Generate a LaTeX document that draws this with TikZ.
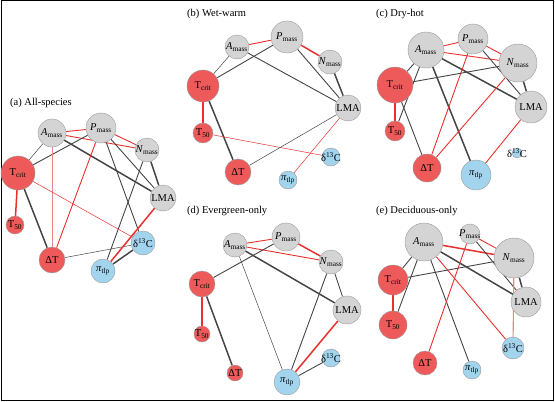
\documentclass[tikz,border=0pt]{standalone}
\usepackage{fontspec}
\setmainfont{Liberation Serif}
\usetikzlibrary{backgrounds}
\definecolor{gfill}{HTML}{D4D4D4}
\definecolor{gline}{HTML}{9A9A9A}
\definecolor{rfill}{HTML}{EE5A5A}
\definecolor{bfill}{HTML}{A3D4EE}
\definecolor{redline}{HTML}{E8312F}
\definecolor{pinkline}{HTML}{E88888}
\definecolor{darkline}{HTML}{454545}
\newcommand\lAm{\textit{A}\textsubscript{mass}}
\newcommand\lPm{\textit{P}\textsubscript{mass}}
\newcommand\lNm{\textit{N}\textsubscript{mass}}
\newcommand\lTc{T\textsubscript{crit}}
\newcommand\lTf{T\textsubscript{50}}
\newcommand\lDT{ΔT}
\newcommand\lDC{δ\textsuperscript{13}C}
\newcommand\lPi{\textit{π}\textsubscript{tlp}}
\newcommand\lLMA{LMA}
\tikzset{
  nd/.style={circle, draw=gline, line width=0.4pt, inner sep=0pt},
  gn/.style={nd, fill=gfill},
  rn/.style={nd, fill=rfill},
  bn/.style={nd, fill=bfill},
  lbl/.style={inner sep=0pt, font=\fontsize{10.5}{12}\selectfont},
  ttl/.style={anchor=west, inner sep=0pt, font=\fontsize{10.5}{12}\selectfont},
  rt/.style={draw=redline, line width=0.5pt},
  rm/.style={draw=redline, line width=0.9pt},
  rk/.style={draw=redline, line width=1.5pt},
  pk/.style={draw=pinkline, line width=0.8pt},
  bt/.style={draw=darkline, line width=0.5pt},
  bm/.style={draw=darkline, line width=0.9pt},
  bk/.style={draw=darkline, line width=1.5pt},
  t/.style={label={[lbl]center:#1}},
}
\begin{document}
\begin{tikzpicture}[x=1pt,y=-1pt]
\useasboundingbox (0,0) rectangle (555,402);
\draw[line width=1pt] (1,0.5) rectangle (553.5,400.5);

% ---------- (a) All-species
\node[ttl] (ta) at (10,103) {(a) All-species};
\node[gn, minimum size=28pt, t=\lAm] (aAm) at (52,133) {};
\node[gn, minimum size=30pt, t=\lPm] (aPm) at (101,128) {};
\node[gn, minimum size=24pt, t=\lNm] (aNm) at (147,150) {};
\node[gn, minimum size=26pt, t=\lLMA] (aL) at (163,198) {};
\node[bn, minimum size=24pt, t=\lDC] (aDC) at (143,243) {};
\node[bn, minimum size=24pt, t=\lPi] (aPi) at (103,271) {};
\node[rn, minimum size=26pt, t=\lDT] (aDT) at (52,260) {};
\node[rn, minimum size=18pt, t=\lTf] (aTf) at (15,225) {};
\node[rn, minimum size=34pt, t=\lTc] (aTc) at (18,173) {};
\begin{pgfonlayer}{background}
\draw[rm] (aAm) -- (aPm);
\draw[rm] (aAm) -- (aNm);
\draw[rm] (aPm) -- (aNm);
\draw[bt] (aAm) -- (aTc);
\draw[bm] (aPm) -- (aTc);
\draw[bk] (aAm) -- (aL);
\draw[pk, line width=0.6pt] (aAm) -- (aDT);
\draw[rm] (aPm) -- (aDT);
\draw[bm] (aPm) -- (aL);
\draw[bm] (aPm) -- (aDC);
\draw[bk] (aNm) -- (aL);
\draw[bm] (aNm) -- (aPi);
\draw[rk] (aTc) -- (aTf);
\draw[bk] (aTc) -- (aDT);
\draw[rt] (aTc) -- (aDC);
\draw[bt] (aDT) -- (aDC);
\draw[rk] (aL) -- (aPi);
\draw[bk] (aDC) -- (aPi);
\end{pgfonlayer}

% ---------- (b) Wet-warm
\node[ttl] (tb) at (187,14) {(b) Wet-warm};
\node[gn, minimum size=24pt, t=\lAm] (bAm) at (237,47) {};
\node[gn, minimum size=32pt, t=\lPm] (bPm) at (287,37) {};
\node[gn, minimum size=24pt, t=\lNm] (bNm) at (330,62) {};
\node[gn, minimum size=26pt, t=\lLMA] (bL) at (348,108) {};
\node[bn, minimum size=18pt, t=\lDC] (bDC) at (331,157) {};
\node[bn, minimum size=18pt, t=\lPi] (bPi) at (288,180) {};
\node[rn, minimum size=26pt, t=\lDT] (bDT) at (238,172) {};
\node[rn, minimum size=20pt, t=\lTf] (bTf) at (203,133) {};
\node[rn, minimum size=32pt, t=\lTc] (bTc) at (203,86) {};
\begin{pgfonlayer}{background}
\draw[rm] (bAm) -- (bPm);
\draw[rk] (bPm) -- (bNm);
\draw[bt] (bAm) -- (bTc);
\draw[bm] (bPm) -- (bTc);
\draw[bm] (bAm) -- (bL);
\draw[bm] (bPm) -- (bL);
\draw[bk] (bNm) -- (bL);
\draw[rk] (bTc) -- (bTf);
\draw[bk] (bTc) -- (bDT);
\draw[rt] (bTf) -- (bDC);
\draw[bt] (bDT) -- (bL);
\draw[rt] (bL) -- (bPi);
\end{pgfonlayer}

% ---------- (c) Dry-hot
\node[ttl] (tc) at (376,14) {(c) Dry-hot};
\node[gn, minimum size=36pt, t=\lAm] (cAm) at (426,50) {};
\node[gn, minimum size=30pt, t=\lPm] (cPm) at (473,39) {};
\node[gn, minimum size=38pt, t=\lNm] (cNm) at (518,63) {};
\node[gn, minimum size=32pt, t=\lLMA] (cL) at (531,107) {};
\node[bn, minimum size=10pt, t=\lDC] (cDC) at (517,153) {};
\node[bn, minimum size=30pt, t=\lPi] (cPi) at (476,175) {};
\node[rn, minimum size=28pt, t=\lDT] (cDT) at (427,168) {};
\node[rn, minimum size=20pt, t=\lTf] (cTf) at (395,131) {};
\node[rn, minimum size=36pt, t=\lTc] (cTc) at (395,85) {};
\begin{pgfonlayer}{background}
\draw[rm] (cAm) -- (cPm);
\draw[rm] (cAm) -- (cNm);
\draw[rm] (cPm) -- (cNm);
\draw[bm] (cAm) -- (cTc);
\draw[bm] (cAm) -- (cTf);
\draw[bk] (cAm) -- (cL);
\draw[bk] (cAm) -- (cPi);
\draw[rm] (cPm) -- (cDT);
\draw[bm] (cPm) -- (cL);
\draw[bm] (cNm) -- (cTc);
\draw[bk] (cNm) -- (cL);
\draw[rm] (cNm) -- (cDT);
\draw[rk] (cTc) -- (cTf);
\draw[bm] (cTc) -- (cDT);
\draw[rm] (cL) -- (cPi);
\end{pgfonlayer}

% ---------- (d) Evergreen-only
\node[ttl] (td) at (187,211) {(d) Evergreen-only};
\node[gn, minimum size=24pt, t=\lAm] (dAm) at (235,245) {};
\node[gn, minimum size=28pt, t=\lPm] (dPm) at (286,237) {};
\node[gn, minimum size=24pt, t=\lNm] (dNm) at (331,262) {};
\node[gn, minimum size=28pt, t=\lLMA] (dL) at (347,310) {};
\node[bn, minimum size=18pt, t=\lDC] (dDC) at (331,358) {};
\node[bn, minimum size=26pt, t=\lPi] (dPi) at (287,382) {};
\node[rn, minimum size=16pt, t=\lDT] (dDT) at (235,373) {};
\node[rn, minimum size=16pt, t=\lTf] (dTf) at (202,334) {};
\node[rn, minimum size=26pt, t=\lTc] (dTc) at (202,284) {};
\begin{pgfonlayer}{background}
\draw[rm] (dAm) -- (dPm);
\draw[rm] (dAm) -- (dNm);
\draw[rk] (dPm) -- (dNm);
\draw[bm] (dPm) -- (dTc);
\draw[bk] (dAm) -- (dL);
\draw[bt] (dAm) -- (dPi);
\draw[bm] (dNm) -- (dL);
\draw[bm] (dNm) -- (dPi);
\draw[rk] (dTc) -- (dTf);
\draw[bk] (dTc) -- (dDT);
\draw[rk] (dL) -- (dPi);
\draw[bm] (dDC) -- (dPi);
\end{pgfonlayer}

% ---------- (e) Deciduous-only
\node[ttl] (te) at (376,211) {(e) Deciduous-only};
\node[gn, minimum size=38pt, t=\lAm] (eAm) at (424,242) {};
\node[gn, minimum size=20pt, t=\lPm] (ePm) at (470,234) {};
\node[gn, minimum size=40pt, t=\lNm] (eNm) at (514,258) {};
\node[gn, minimum size=30pt, t=\lLMA] (eL) at (526,302) {};
\node[bn, minimum size=22pt, t=\lDC] (eDC) at (513,348) {};
\node[bn, minimum size=18pt, t=\lPi] (ePi) at (472,370) {};
\node[rn, minimum size=24pt, t=\lDT] (eDT) at (425,363) {};
\node[rn, minimum size=28pt, t=\lTf] (eTf) at (393,325) {};
\node[rn, minimum size=30pt, t=\lTc] (eTc) at (393,280) {};
\begin{pgfonlayer}{background}
\draw[rk] (eAm) -- (eNm);
\draw[rm] (ePm) -- (eNm);
\draw[bm] (ePm) -- (eL);
\draw[bm] (eAm) -- (eTc);
\draw[bm] (eAm) -- (eTf);
\draw[bk] (eAm) -- (eL);
\draw[bm] (eAm) -- (ePi);
\draw[rm] (eAm) -- (eDC);
\draw[rm] (ePm) -- (eDT);
\draw[bm] (eNm) -- (eTc);
\draw[bk] (eNm) -- (eL);
\draw[pk, line width=1.1pt] (eNm) -- (eDC);
\draw[rk] (eTc) -- (eTf);
\end{pgfonlayer}
\end{tikzpicture}
\end{document}
